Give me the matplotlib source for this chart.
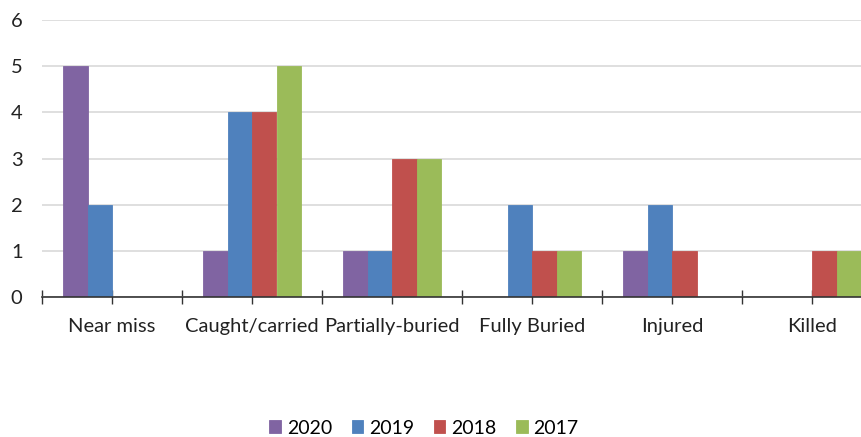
import matplotlib.pyplot as plt
import numpy as np

plt.rcParams['font.family'] = ['Lato', 'DejaVu Sans']

categories = ['Near miss', 'Caught/carried', 'Partially-buried', 'Fully Buried', 'Injured', 'Killed']
years = ['2020', '2019', '2018', '2017']
v2020 = [5, 1, 1, 0, 1, 0]
v2019 = [2, 4, 1, 2, 2, 0]
v2018 = [0, 4, 3, 1, 1, 1]
v2017 = [0, 5, 3, 1, 0, 1]
colors = ['#8064A2', '#4F81BD', '#C0504D', '#9BBB59']

series = [v2020, v2019, v2018, v2017]
x = np.arange(len(categories))
w = 0.175

fig = plt.figure(figsize=(8.61, 4.37), dpi=100)
ax = fig.add_axes([42/861, 1-297/437, 840/861, 277/437])

for i, vals in enumerate(series):
    ax.bar(x + (i - 1.5) * w, vals, w, color=colors[i], edgecolor=colors[i],
           linewidth=0.6, label=years[i], zorder=3)

ax.set_xlim(-0.5, len(categories) - 0.5)
ax.set_ylim(0, 6)
ax.set_yticks(range(7))
ax.yaxis.grid(True, color='#D9D9D9', linewidth=1.2, zorder=0)
ax.tick_params(axis='y', length=0, labelsize=14.5, pad=14, labelcolor='#222222')

# ticks every half category, labels only at centres
tick_pos = np.arange(-0.5, len(categories), 0.5)
tick_lab = []
for p in tick_pos:
    tick_lab.append(categories[int(p)] if p == int(p) else '')
ax.set_xticks(tick_pos)
ax.set_xticklabels(tick_lab, fontsize=14.5, color='#222222')
ax.tick_params(axis='x', length=10, direction='inout', color='#333333', width=1, pad=10)

for s in ['top', 'right', 'left']:
    ax.spines[s].set_visible(False)
ax.spines['bottom'].set_color('#333333')
ax.spines['bottom'].set_linewidth(1.2)
ax.spines['bottom'].set_zorder(4)

fig.legend(loc='center', bbox_to_anchor=(424/861, 1-428/437), ncol=4, frameon=False,
           fontsize=14, handlelength=0.6, handleheight=0.6, columnspacing=1.0, handletextpad=0.3)

fig.savefig('out.png', dpi=100)
